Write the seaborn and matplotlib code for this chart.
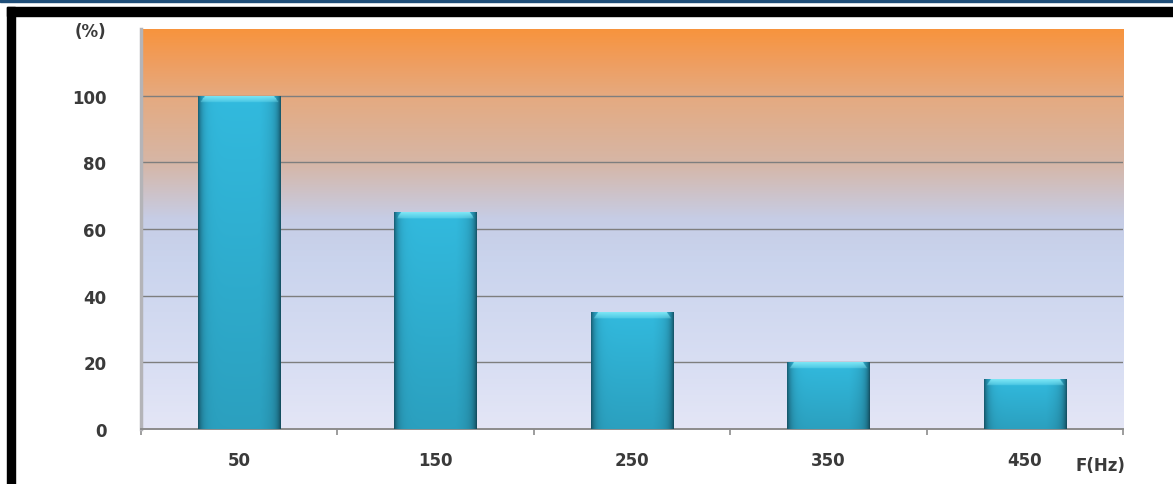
import numpy as np
import pandas as pd
import matplotlib
matplotlib.use("Agg")
import matplotlib.pyplot as plt
from matplotlib.patches import Rectangle
from matplotlib.colors import LinearSegmentedColormap
import seaborn as sns

# Chart data
frequencies = ["50", "150", "250", "350", "450"]
percent = [100, 65, 35, 20, 15]
y_ticks = [0, 20, 40, 60, 80, 100, 120]
y_tick_labels = ["0", "20", "40", "60", "80", "100", "(%)"]
x_unit_label = "F(Hz)"

sns.set_theme(style="white")
plt.rcParams["font.family"] = ["DejaVu Sans"]

df = pd.DataFrame({"freq": frequencies, "pct": percent})

fig = plt.figure(figsize=(11.73, 4.85), dpi=100)
ax = fig.add_axes([0.1202, 0.1134, 0.9574 - 0.1202, 0.9381 - 0.1134])

sns.barplot(data=df, x="freq", y="pct", width=0.42, color="#2fb6da",
            edgecolor="none", ax=ax, zorder=3)

ax.set_xlim(-0.5, len(frequencies) - 0.5)
ax.set_ylim(0, 120)

# vertical background gradient: orange at the top into pale lavender
stops = [
    (0.0, (228, 230, 246)),
    (20 / 120, (216, 222, 243)),
    (50 / 120, (202, 212, 237)),
    (63 / 120, (198, 205, 230)),
    (80 / 120, (214, 182, 166)),
    (100 / 120, (229, 170, 128)),
    (110 / 120, (239, 158, 96)),
    (1.0, (247, 148, 62)),
]
bg_cmap = LinearSegmentedColormap.from_list(
    "bg", [(p, tuple(c / 255 for c in rgb)) for p, rgb in stops])
grad = np.linspace(0, 1, 256).reshape(-1, 1)
ax.imshow(grad, cmap=bg_cmap, aspect="auto", origin="lower",
          extent=(-0.5, len(frequencies) - 0.5, 0, 120), zorder=0)

# shaded fill for each bar: dark edges, bright centre, light bevel on top
nx, ny = 120, 240
xs = np.linspace(0, 1, nx)
edge_dark = np.clip(1 - np.exp(-xs / 0.05) - np.exp(-(1 - xs) / 0.045), 0, 1)
right_shade = 1 - 0.10 * np.clip((xs - 0.75) / 0.25, 0, 1)
base = np.array([50, 186, 222]) / 255
dark = np.array([24, 96, 118]) / 255
light = np.array([125, 230, 245]) / 255
for patch in ax.patches:
    x0, w = patch.get_x(), patch.get_width()
    h = patch.get_height()
    ys = np.linspace(0, 1, ny)
    img = np.zeros((ny, nx, 3))
    vshade = 0.86 + 0.14 * ys  # darker toward the base
    col_row = (dark + (base - dark) * edge_dark[:, None]) * right_shade[:, None]
    for i in range(ny):
        img[i] = col_row * vshade[i]
    # light cap at the top of the bar
    bar_px = h / 120 * 400
    cap_frac = 6.0 / max(bar_px, 1)
    for i in range(ny):
        if ys[i] > 1 - cap_frac:
            t = (ys[i] - (1 - cap_frac)) / cap_frac
            inner = (xs > 0.03 + 0.05 * t) & (xs < 0.97 - 0.05 * t)
            mix = 0.35 + 0.65 * t
            img[i][inner] = img[i][inner] * (1 - mix) + light * mix
    im = ax.imshow(img, aspect="auto", origin="lower",
                   extent=(x0, x0 + w, 0, h), zorder=4, interpolation="bilinear")
    im.set_clip_path(patch)

# grid, spines and ticks
ax.set_yticks(y_ticks)
ax.set_yticklabels(y_tick_labels)
for v in y_ticks[1:-1]:
    ax.axhline(v, color="#7e7e7e", lw=1.0, zorder=2)

for side in ["top", "right"]:
    ax.spines[side].set_visible(False)
ax.spines["left"].set_color("#b4b4b8")
ax.spines["left"].set_linewidth(2.5)
ax.spines["bottom"].set_color("#8c8c8c")
ax.spines["bottom"].set_linewidth(1.4)

ax.tick_params(axis="y", which="major", length=8, width=1.0, color="#8a8a8a",
               pad=17, labelsize=12, labelcolor="#3a3a3a")
ax.tick_params(axis="x", which="major", length=0, pad=16,
               labelsize=12, labelcolor="#3a3a3a")
ax.set_xticks(np.arange(-0.5, len(frequencies), 1.0), minor=True)
ax.tick_params(axis="x", which="minor", length=4, width=1.2, color="#8c8c8c",
               bottom=True)
for lab in ax.get_xticklabels() + ax.get_yticklabels():
    lab.set_fontweight("bold")
ax.set_xlabel("")
ax.set_ylabel("")

fig.text(1100 / 1173, 1 - 466 / 485, x_unit_label, fontsize=12, fontweight="bold",
         color="#3a3a3a", ha="center", va="center")

# frame decoration: blue rule on top, black border top and left
fig.patches.append(Rectangle((0, 1 - 3 / 485), 1, 3 / 485, transform=fig.transFigure,
                             color="#1f4e79", zorder=10))
fig.patches.append(Rectangle((7 / 1173, 1 - 17 / 485), 1, 9 / 485,
                             transform=fig.transFigure, color="black", zorder=10))
fig.patches.append(Rectangle((7 / 1173, 0), 8 / 1173, 1 - 8 / 485,
                             transform=fig.transFigure, color="black", zorder=10))

fig.savefig("out.png", dpi=100, facecolor="white")
